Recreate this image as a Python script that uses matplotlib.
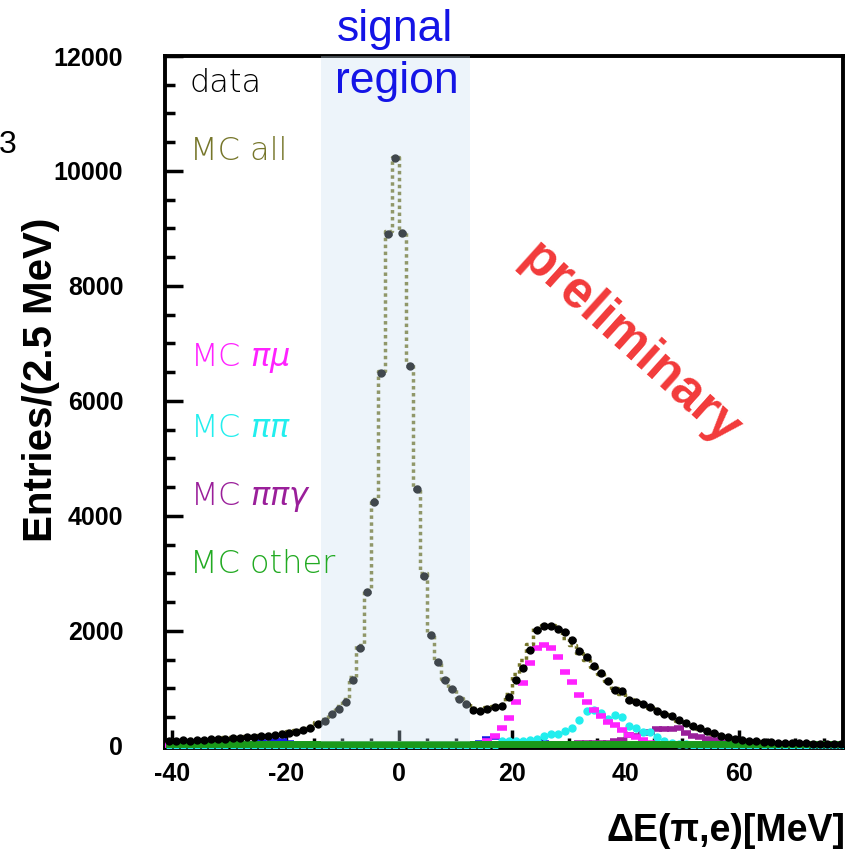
import numpy as np
import matplotlib
matplotlib.use("Agg")
from matplotlib import pyplot as plt
from matplotlib.ticker import MultipleLocator

# bins of 1.25 MeV, first edge at -41.25
bin_lo = -41.25
bin_w = 1.25

data = [95, 90, 100, 95, 105, 110, 115, 120, 130, 135,
        140, 150, 160, 170, 180, 195, 210, 230, 250, 280,
        320, 380, 430, 557, 650, 765, 1148, 1710, 2680, 4245,
        6490, 8900, 10230, 8920, 6610, 4470, 2960, 1930, 1455, 1140,
        985, 810, 730, 626, 610, 650, 680, 695, 857, 1150,
        1350, 1670, 2020, 2090, 2090, 2030, 1990, 1840, 1650, 1540,
        1390, 1275, 1130, 975, 960, 800, 760, 725, 670, 600,
        560, 520, 450, 400, 350, 310, 260, 220, 180, 150,
        120, 100, 90, 80, 75, 65, 60, 55, 50, 45,
        45, 40, 40, 35, 35, 35]

mc_all = [110, 110, 115, 115, 120, 125, 130, 140, 150, 155,
          160, 170, 180, 190, 200, 215, 235, 255, 280, 310,
          350, 410, 470, 580, 690, 820, 1200, 1760, 2720, 4300,
          6530, 8950, 10250, 8960, 6650, 4500, 3000, 1960, 1480, 1170,
          1010, 840, 760, 660, 640, 670, 700, 730, 900, 1250,
          1500, 1780, 2050, 2110, 2100, 2020, 1880, 1760, 1620, 1500,
          1380, 1250, 1130, 1010, 900, 820, 770, 720, 660, 600,
          550, 500, 440, 390, 340, 300, 250, 210, 175, 145,
          120, 100, 90, 80, 72, 65, 60, 55, 50, 45,
          45, 40, 40, 38, 36, 35]

mc_pimu = [10] * 43 + [40, 30, 80, 170, 310, 495, 770,
                       1090, 1440, 1710, 1755, 1700, 1540, 1290, 1120, 890, 770,
                       630, 520, 420, 365, 280, 190, 165, 110, 60, 40,
                       30] + [20] * 25

mc_pipi = [15] * 47 + [80, 90, 85,
                       95, 100, 130, 170, 210, 200, 260, 310, 450, 610,
                       625, 570, 470, 540, 510, 350, 310, 250, 240, 150,
                       90, 60, 40, 30] + [20] * 22

mc_pipig = [15] * 50 + [20, 25, 25, 30, 30, 35, 35, 40, 45, 50,
                        55, 60, 60, 90, 100, 190, 170, 220, 250, 290,
                        300, 300, 310, 220, 170, 160, 130, 100, 70, 55,
                        40, 30, 25, 25, 25, 25, 25, 25, 25, 25,
                        25, 25, 25, 25, 25, 25]

mc_other = [35] * 96

mc_blue = ([20] * 12 + [40, 70, 60, 80, 90, 50] + [20] * 26
           + [60, 130, 150, 40, 60, 60, 55, 50, 50, 45, 40] + [20] * 41)

legend_labels = ["data", "MC all", r"MC $\pi\mu$", r"MC $\pi\pi$",
                 r"MC $\pi\pi\gamma$", "MC other"]
legend_colors = ["black", "#76762a", "#ff22ff", "#22eeee", "#9a1f9a", "#22aa22"]
legend_y = [92, 160, 366, 437, 505, 573]

x = bin_lo + bin_w * (np.arange(len(data)) + 0.5)

plt.rcParams['font.family'] = ['Liberation Sans', 'DejaVu Sans']
plt.rcParams['axes.unicode_minus'] = False

fig = plt.figure(figsize=(8.49, 8.55), dpi=100)
ax = fig.add_axes([165 / 849, 1 - 748 / 855, 678 / 849, 692 / 855])

ax.plot(x, mc_blue, '_', color='#1a1ae6', ms=7, mew=4, zorder=2)
ax.plot(x, mc_pipig, '_', color='#9a1f9a', ms=7, mew=4, zorder=3)
ax.plot(x, mc_pipi, 'o', color='#22eeee', ms=5, zorder=3)
ax.plot(x, mc_pimu, '_', color='#ff22ff', ms=7, mew=4, zorder=3)
ax.plot(x, mc_other, drawstyle='steps-mid', color='#1a9a1a', lw=5, zorder=3.5)
ax.plot(x, mc_all, drawstyle='steps-mid', color='#76762a',
        lw=2.5, linestyle=(0, (1, 1)), zorder=4)
ax.errorbar(x, data, xerr=bin_w / 2, fmt='o', color='black', ms=5,
            elinewidth=2.5, capsize=0, zorder=5)

# signal region overlay
ax.fill_between([-13.75, 12.5], 70, 12000, color='#c8def0', alpha=0.32,
                lw=0, zorder=10)

ax.set_xlim(-41.3, 78.4)
ax.set_ylim(-35, 12000)
ax.xaxis.set_major_locator(MultipleLocator(20))
ax.xaxis.set_minor_locator(MultipleLocator(5))
ax.yaxis.set_major_locator(MultipleLocator(2000))
ax.yaxis.set_minor_locator(MultipleLocator(500))
ax.tick_params(which='both', direction='in', width=2.5)
ax.tick_params(which='major', length=13)
ax.tick_params(which='minor', length=7)
ax.tick_params(axis='y', which='major', pad=30)
ax.tick_params(axis='x', which='major', pad=10)
for lab in ax.get_xticklabels() + ax.get_yticklabels():
    lab.set_fontsize(18)
    lab.set_fontweight('bold')
for s in ax.spines.values():
    s.set_linewidth(2.8)

for lab, col, yy in zip(legend_labels, legend_colors, legend_y):
    fig.text(190 / 849, 1 - yy / 855, lab, color=col, fontsize=23,
             family='DejaVu Sans', fontweight='light', va='baseline')
# the overlay also covers the legend text that sits inside the region
for t in fig.texts:
    t.set_zorder(1)

fig.text(395 / 849, 1 - 30 / 855, "signal", color='#1414e6', fontsize=32,
         ha='center', va='center')
fig.text(397 / 849, 1 - 82 / 855, "region", color='#1414e6', fontsize=32,
         ha='center', va='center')
fig.text(630 / 849, 1 - 345 / 855, "preliminary", color='#f23a3a',
         fontsize=37, fontweight='bold', rotation=-42,
         ha='center', va='center')
fig.text(8 / 849, 1 - 145 / 855, "3", fontsize=23, ha='center', va='center')
fig.text(41 / 849, 1 - 380 / 855, "Entries/(2.5 MeV)", fontsize=29,
         fontweight='bold', rotation=90, ha='center', va='center')
fig.text(845 / 849, 1 - 849 / 855, "ΔE(π,e)[MeV]", fontsize=27,
         fontweight='bold', ha='right', va='bottom')

fig.savefig("out.png", dpi=100)
